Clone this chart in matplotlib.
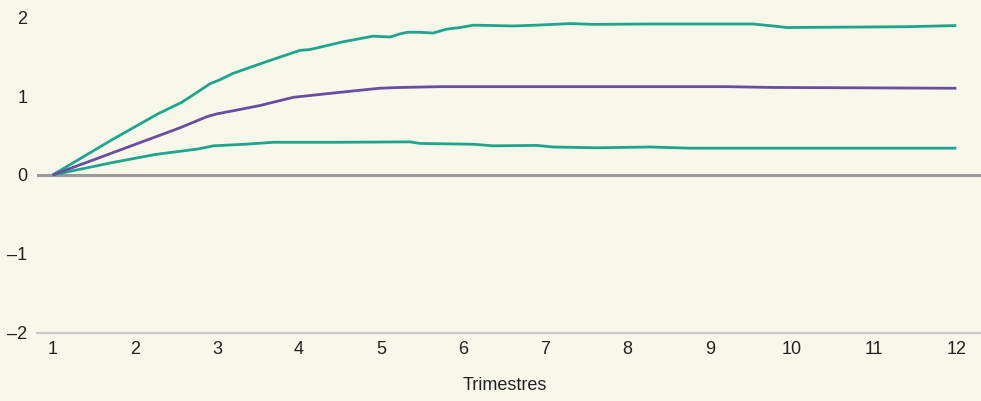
import matplotlib
matplotlib.use("Agg")
import matplotlib.pyplot as plt
import matplotlib.transforms as mtransforms

plt.rcParams['font.family'] = ['Liberation Sans', 'DejaVu Sans']

# Upper band (teal)
upper_q = [1.0, 1.72, 2.29, 2.57, 2.79, 2.92, 3.02, 3.20, 3.61, 4.01, 4.13, 4.54, 4.90, 5.11,
           5.23, 5.32, 5.47, 5.63, 5.80, 5.96, 6.12, 6.61, 6.89, 7.30, 7.58, 8.27, 9.52,
           9.77, 9.93, 11.39, 12.0]
upper_v = [0.0, 0.445, 0.78, 0.92, 1.07, 1.16, 1.20, 1.29, 1.44, 1.58, 1.59, 1.69, 1.76, 1.75,
           1.79, 1.81, 1.81, 1.80, 1.85, 1.87, 1.90, 1.89, 1.90, 1.92, 1.91, 1.915, 1.915,
           1.89, 1.87, 1.88, 1.895]

# Central response (purple)
mid_q = [1.0, 1.92, 2.53, 2.88, 3.00, 3.30, 3.52, 3.93, 4.42, 4.98, 5.23, 5.71, 9.20, 9.77, 12.0]
mid_v = [0.0, 0.355, 0.59, 0.74, 0.775, 0.835, 0.88, 0.985, 1.04, 1.10, 1.11, 1.12, 1.12, 1.11, 1.10]

# Lower band (teal)
lower_q = [1.0, 1.72, 2.25, 2.77, 2.96, 3.34, 3.69, 4.50, 5.35, 5.47, 6.12, 6.36, 6.89,
           7.09, 7.62, 8.27, 8.76, 12.0]
lower_v = [0.0, 0.156, 0.26, 0.33, 0.37, 0.39, 0.415, 0.415, 0.42, 0.40, 0.39, 0.37, 0.375,
           0.355, 0.345, 0.355, 0.34, 0.34]

x_ticks = list(range(1, 13))
y_ticks = [-2, -1, 0, 1, 2]
y_labels = ['\u20132', '\u20131', '0', '1', '2']
x_label = 'Trimestres'

bg = '#f8f8ea'
teal = '#1ea58e'
purple = '#674ea0'

fig = plt.figure(figsize=(9.81, 4.01), dpi=100, facecolor=bg)
ax = fig.add_axes([0.0377, 0.1703, 1 - 0.0377, 0.9766 - 0.1703])
ax.set_facecolor(bg)

ax.axhline(0, color='#9a9a9a', lw=2.2, zorder=1)
ax.plot(upper_q, upper_v, color=teal, lw=2.0, zorder=3, solid_capstyle='butt')
ax.plot(lower_q, lower_v, color=teal, lw=2.0, zorder=3, solid_capstyle='butt')
ax.plot(mid_q, mid_v, color=purple, lw=2.0, zorder=4, solid_capstyle='butt')

ax.set_xlim(0.81, 12.30)
ax.set_ylim(-2, 2.1)
ax.set_xticks(x_ticks)
ax.set_yticks(y_ticks)
ax.set_yticklabels(y_labels)

for s in ['top', 'right', 'left']:
    ax.spines[s].set_visible(False)
ax.spines['bottom'].set_color('#c8c8c8')
ax.spines['bottom'].set_linewidth(1.6)
ax.spines['bottom'].set_position(('data', -2))

ax.tick_params(axis='both', length=0, labelsize=13, colors='#222222')
ax.tick_params(axis='y', pad=7)
ax.tick_params(axis='x', pad=6)

trans = mtransforms.blended_transform_factory(ax.transData, fig.transFigure)
ax.text((x_ticks[0] + x_ticks[-1]) / 2, 1 - 385 / 401, x_label, transform=trans,
        ha='center', va='center', fontsize=13, color='#222222')

fig.savefig('out.png', dpi=100, facecolor=bg)
